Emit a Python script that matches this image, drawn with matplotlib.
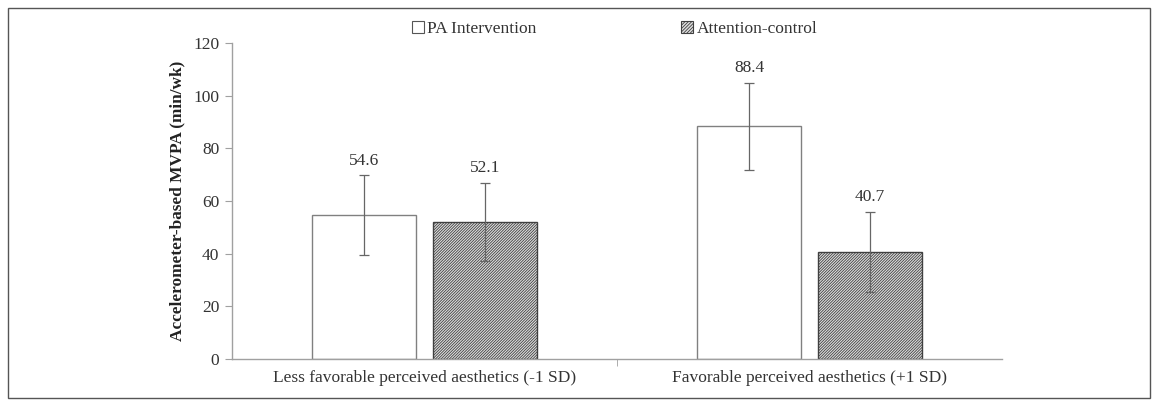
import matplotlib
matplotlib.use("Agg")
import matplotlib.pyplot as plt
import numpy as np
from matplotlib.patches import Rectangle, Patch

categories = ["Less favorable perceived aesthetics (-1 SD)", "Favorable perceived aesthetics (+1 SD)"]
series_names = ["PA Intervention", "Attention-control"]
pa_values = [54.6, 88.4]
ac_values = [52.1, 40.7]
pa_err = [15.1, 16.5]
ac_err = [14.9, 15.2]
yticks = [0, 20, 40, 60, 80, 100, 120]

plt.rcParams['font.family'] = ['Liberation Serif', 'DejaVu Serif']
plt.rcParams['hatch.color'] = '#7a7a7a'
plt.rcParams['hatch.linewidth'] = 0.6

fig = plt.figure(figsize=(11.57, 4.05), dpi=100)
ax = fig.add_axes([0.2005, 0.1136, 0.6655, 0.7802])

x = np.arange(len(categories))
w = 0.272
off = 0.157
txt = '#333333'
ax.bar(x - off, pa_values, w, color='white', edgecolor='#808080', linewidth=1.0, zorder=2)
ax.bar(x + off, ac_values, w, color='#dedede', edgecolor='#404040', linewidth=1.0,
       hatch='////////////', zorder=2)
ax.errorbar(x - off, pa_values, yerr=pa_err, fmt='none', ecolor='#666666', elinewidth=0.9,
            capsize=3.5, capthick=0.9, zorder=3)
ax.errorbar(x + off, ac_values, yerr=ac_err, fmt='none', ecolor='#666666', elinewidth=0.9,
            capsize=3.5, capthick=0.9, zorder=3)
for xi, v, e in zip(x - off, pa_values, pa_err):
    ax.text(xi, v + e + 2.4, f"{v:.1f}", ha='center', va='bottom', fontsize=12.5, color=txt)
for xi, v, e in zip(x + off, ac_values, ac_err):
    ax.text(xi, v + e + 2.4, f"{v:.1f}", ha='center', va='bottom', fontsize=12.5, color=txt)

ax.set_xlim(-0.5, 1.5)
ax.set_ylim(0, 120)
ax.set_yticks(yticks)
ax.set_yticklabels([str(t) for t in yticks], fontsize=12.5, color=txt)
ax.set_xticks(x)
ax.set_xticklabels(categories, fontsize=12.5, color=txt)
ax.tick_params(axis='x', length=0, pad=8)
ax.set_xticks([0.5], minor=True)
ax.tick_params(axis='x', which='minor', length=5, color='#a0a0a0', direction='out')
ax.tick_params(axis='y', length=5, color='#a0a0a0', pad=4)
for s in ['top', 'right']:
    ax.spines[s].set_visible(False)
for s in ['left', 'bottom']:
    ax.spines[s].set_color('#a0a0a0')
    ax.spines[s].set_linewidth(1.0)
ax.set_ylabel("Accelerometer-based MVPA (min/wk)", fontsize=12.4, fontweight='bold', color='#222222', labelpad=6)

handles = [Patch(facecolor='white', edgecolor='#555555', linewidth=0.8),
           Patch(facecolor='#dedede', edgecolor='#404040', linewidth=0.8, hatch='//////////')]
fig.legend(handles, series_names, loc='center', bbox_to_anchor=(0.531, 0.928), ncol=2,
           frameon=False, fontsize=12.5, handlelength=0.7, handleheight=0.7, handletextpad=0.2,
           columnspacing=8.3, labelcolor=txt)

fig.patches.append(Rectangle((8/1157, 1 - 398/405), 1142/1157, 390/405, transform=fig.transFigure,
                             fill=False, edgecolor='#555555', linewidth=1.0))

fig.savefig("out.png", dpi=100)
